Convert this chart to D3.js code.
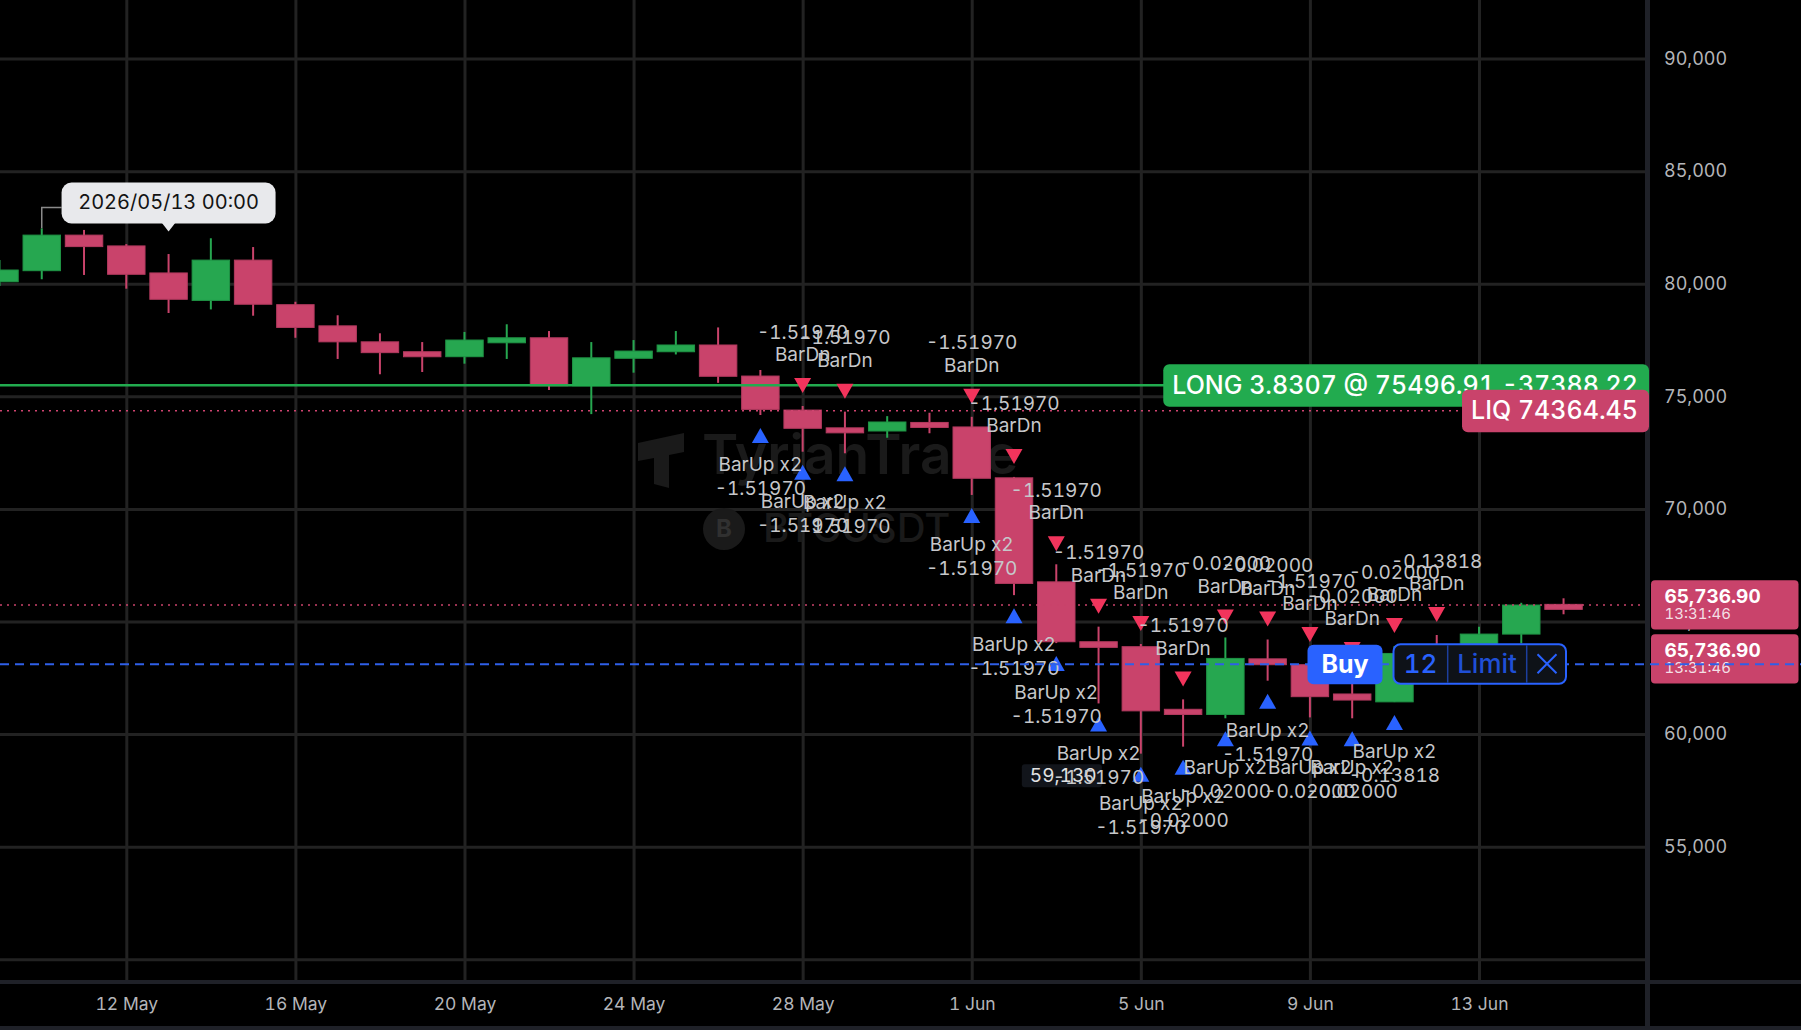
<!DOCTYPE html>
<html>
<head>
<meta charset="utf-8">
<script src="https://cdn.jsdelivr.net/npm/d3@7"></script>
<style>
  html, body { margin: 0; padding: 0; background: #000; overflow: hidden; }
  svg { display: block; }
  text { font-family: Inter, "Noto Sans", sans-serif; font-feature-settings: "tnum"; }
</style>
</head>
<body>
<svg id="chart"></svg>
<script>
// daily candles, 9 May -> 15 Jun 2026
const dates = ["2026-05-09","2026-05-10","2026-05-11","2026-05-12","2026-05-13","2026-05-14","2026-05-15","2026-05-16",
  "2026-05-17","2026-05-18","2026-05-19","2026-05-20","2026-05-21","2026-05-22","2026-05-23","2026-05-24","2026-05-25",
  "2026-05-26","2026-05-27","2026-05-28","2026-05-29","2026-05-30","2026-05-31","2026-06-01","2026-06-02","2026-06-03",
  "2026-06-04","2026-06-05","2026-06-06","2026-06-07","2026-06-08","2026-06-09","2026-06-10","2026-06-11","2026-06-12",
  "2026-06-13","2026-06-14","2026-06-15"];
const opens  = [80090, 80580, 82160, 81680, 80480, 79260, 81050, 79070, 78130, 77420, 76980, 76760, 77380, 77600, 75470, 76690,
  76980, 77280, 75900, 74390, 73600, 73460, 73840, 73640, 71380, 66760, 64100, 63880, 61100, 60870, 63340, 63080, 61780, 61430,
  63580, 62950, 64440, 65760];
const highs  = [81050, 82460, 82390, 81760, 81320, 82020, 81630, 79200, 78600, 77800, 77410, 77860, 78200, 77900, 77410, 77500,
  77900, 78060, 76170, 74570, 74320, 74120, 74270, 74090, 71420, 67540, 64770, 64000, 61540, 64290, 64200, 63510, 62840, 63910,
  64400, 64770, 65830, 66030];
const lows   = [79900, 80200, 80390, 79780, 78700, 78860, 78580, 77600, 76660, 75980, 76080, 76450, 76660, 75280, 74210, 76050,
  76860, 75600, 74170, 72540, 72470, 73160, 73360, 70620, 66170, 64040, 61360, 59130, 59440, 60700, 62370, 60740, 60700, 61420,
  62700, 62800, 64030, 65320];
const closes = [80610, 82160, 81650, 80420, 79310, 81050, 79090, 78060, 77420, 76940, 76760, 77500, 77600, 75470, 76710, 77010,
  77280, 75890, 74420, 73580, 73400, 73860, 73620, 71360, 66690, 64100, 63850, 61030, 60870, 63360, 63080, 61660, 61510, 63580,
  62950, 64440, 65730, 65736.9];

// signals
const dnDates  = ["2026-05-28","2026-05-29","2026-06-01","2026-06-02","2026-06-03","2026-06-04","2026-06-05","2026-06-06",
  "2026-06-07","2026-06-08","2026-06-09","2026-06-10","2026-06-11","2026-06-12"];
const dnValues = ["-1.51970","-1.51970","-1.51970","-1.51970","-1.51970","-1.51970","-1.51970","-1.51970",
  "-0.02000","-0.02000","-1.51970","-0.02000","-0.02000","-0.13818"];
const upDates  = ["2026-05-27","2026-05-28","2026-05-29","2026-06-01","2026-06-02","2026-06-03","2026-06-04","2026-06-05",
  "2026-06-06","2026-06-07","2026-06-08","2026-06-09","2026-06-10","2026-06-11"];
const upValues = ["-1.51970","-1.51970","-1.51970","-1.51970","-1.51970","-1.51970","-1.51970","-1.51970",
  "-0.02000","-0.02000","-1.51970","-0.02000","-0.02000","-0.13818"];

// axes
const priceTicks = [55000, 60000, 65000, 70000, 75000, 80000, 85000, 90000];
const priceGrid = [50000, 55000, 60000, 65000, 70000, 75000, 80000, 85000, 90000];
const dateTicks = ["2026-05-12","2026-05-16","2026-05-20","2026-05-24","2026-05-28","2026-06-01","2026-06-05","2026-06-09","2026-06-13"];

// position / orders
const entryPrice = 75496.91;
const longText = "LONG 3.8307 @ 75496.91 -37388.22";
const liqPrice = 74364.45;
const lastPrice = 65736.90;
const lastTime = "13:31:46";
const limitPrice = 63100;
const limitQty = "12";
const lowLabel = { date: "2026-06-05", price: 59130, text: "59,130" };
const tooltipDate = "2026-05-13";
const tooltipAnchor = "2026-05-10";
const tooltipText = "2026/05/13 00:00";

const W = 1801, H = 1030;
const plotRight = 1645, axisTop = 981;
const up = "#26a750", down = "#c9436b";

const parse = d3.utcParse("%Y-%m-%d");
const x = d3.scaleUtc().domain([parse("2026-05-12"), parse("2026-06-13")]).range([126.3, 1479]);
const y = d3.scaleLinear().domain([50000, 90000]).range([959.2, 58.6]);
const dayW = x(parse("2026-05-13")) - x(parse("2026-05-12"));
const bodyW = dayW * 0.886;

const candles = dates.map((d, i) => ({ date: parse(d), o: opens[i], h: highs[i], l: lows[i], c: closes[i] }));
const byDate = new Map(candles.map(c => [+c.date, c]));

const svg = d3.select("#chart").attr("width", W).attr("height", H);
svg.append("rect").attr("width", W).attr("height", H).attr("fill", "#000");

const defs = svg.append("defs");
defs.append("clipPath").attr("id", "plot-clip")
  .append("rect").attr("x", 0).attr("y", 0).attr("width", plotRight).attr("height", axisTop);

// grid
svg.append("g")
  .call(d3.axisLeft(y).tickValues(priceGrid).tickSize(-plotRight).tickFormat(""))
  .call(g => g.select(".domain").remove())
  .selectAll("line").attr("stroke", "#222").attr("stroke-width", 3);
svg.append("g")
  .call(d3.axisTop(x).tickValues(dateTicks.map(parse)).tickSize(-axisTop).tickFormat(""))
  .call(g => g.select(".domain").remove())
  .selectAll("line").attr("stroke", "#222").attr("stroke-width", 3);

// separators
svg.append("rect").attr("x", plotRight).attr("y", 0).attr("width", 5).attr("height", H).attr("fill", "#1f2128");
svg.append("rect").attr("x", 0).attr("y", axisTop - 1).attr("width", W).attr("height", 4).attr("fill", "#1f2128");
svg.append("rect").attr("x", 0).attr("y", H - 4).attr("width", W).attr("height", 4).attr("fill", "#1f2128");

// watermark
const wm = svg.append("g").attr("fill", "#1a1a1a");
wm.append("path").attr("d", "M638,443 L684,433 L684,452 L669,455 L669,488 L654,484 L654,458 L638,461 Z");
wm.append("text").attr("x", 702).attr("y", 474).attr("font-size", 55).attr("font-weight", 600).text("TyrianTrade");
wm.append("circle").attr("cx", 724).attr("cy", 529).attr("r", 21);
wm.append("text").attr("x", 724).attr("y", 529).attr("dy", "0.35em").attr("text-anchor", "middle")
  .attr("font-size", 24).attr("font-weight", 700).attr("fill", "#303030").text("B");
wm.append("text").attr("x", 763).attr("y", 542).attr("font-size", 40).attr("font-weight", 500).text("BTCUSDT");

// candles
const cg = svg.append("g").attr("clip-path", "url(#plot-clip)");
const candle = cg.selectAll("g.candle").data(candles).enter().append("g").attr("class", "candle");
candle.append("line")
  .attr("x1", d => x(d.date)).attr("x2", d => x(d.date))
  .attr("y1", d => y(d.h)).attr("y2", d => y(d.l))
  .attr("stroke", d => d.c >= d.o ? up : down).attr("stroke-width", 2);
candle.append("rect")
  .attr("x", d => x(d.date) - bodyW / 2).attr("width", bodyW)
  .attr("y", d => y(Math.max(d.o, d.c)))
  .attr("height", d => Math.max(5, Math.abs(y(d.o) - y(d.c))))
  .attr("fill", d => d.c >= d.o ? up : down)
  .attr("stroke", d => d.c >= d.o ? "#1f9445" : "#b33a5f").attr("stroke-width", 1);

// position / order lines
const lines = svg.append("g");
lines.append("line").attr("x1", 0).attr("x2", plotRight).attr("y1", y(entryPrice)).attr("y2", y(entryPrice))
  .attr("stroke", "#22ab4f").attr("stroke-width", 2.5);
lines.append("line").attr("x1", 0).attr("x2", plotRight).attr("y1", y(liqPrice)).attr("y2", y(liqPrice))
  .attr("stroke", "#d04470").attr("stroke-width", 1.5).attr("stroke-dasharray", "2,5");
lines.append("line").attr("x1", 0).attr("x2", plotRight).attr("y1", y(lastPrice)).attr("y2", y(lastPrice))
  .attr("stroke", "#c9436b").attr("stroke-width", 1.5).attr("stroke-dasharray", "2,5");

// low price label
const lowC = byDate.get(+parse(lowLabel.date));
const lowG = svg.append("g");
lowG.append("rect").attr("x", x(lowC.date) - 119).attr("y", y(lowLabel.price) + 10.5)
  .attr("width", 80).attr("height", 23).attr("rx", 3).attr("fill", "#12151b");
lowG.append("text").attr("x", x(lowC.date) - 111).attr("y", y(lowLabel.price) + 22).attr("dy", "0.35em")
  .attr("font-size", 19).attr("fill", "#e2e2e2").text(lowLabel.text);

// signal markers
const labelFill = "#c6c7ca";
const dn = dnDates.map((d, i) => ({ c: byDate.get(+parse(d)), v: dnValues[i] }));
const upS = upDates.map((d, i) => ({ c: byDate.get(+parse(d)), v: upValues[i] }));

const mg = svg.append("g");
dn.forEach(s => {
  const cx = x(s.c.date), top = y(s.c.h) - 28;
  mg.append("path").attr("d", `M${cx - 8.5},${top} L${cx + 8.5},${top} L${cx},${top + 15} Z`).attr("fill", "#f2345c");
});
upS.forEach(s => {
  const cx = x(s.c.date), top = y(s.c.l) + 13;
  mg.append("path").attr("d", `M${cx - 8.5},${top + 15} L${cx + 8.5},${top + 15} L${cx},${top} Z`).attr("fill", "#2962ff");
});
const lg = svg.append("g").attr("font-size", 19).attr("fill", labelFill).attr("text-anchor", "middle");
dn.forEach(s => {
  const cx = x(s.c.date), top = y(s.c.h) - 28;
  lg.append("text").attr("x", cx).attr("y", top - 23.5).attr("dy", "0.35em").text("BarDn");
  lg.append("text").attr("x", cx).attr("y", top - 46).attr("dy", "0.35em").text(s.v);
});
upS.forEach(s => {
  const cx = x(s.c.date), bottom = y(s.c.l) + 28;
  lg.append("text").attr("x", cx).attr("y", bottom + 21.5).attr("dy", "0.35em").text("BarUp x2");
  lg.append("text").attr("x", cx).attr("y", bottom + 45.5).attr("dy", "0.35em").text(s.v);
});

// tooltip
const tipC = byDate.get(+parse(tooltipDate));
const ancC = byDate.get(+parse(tooltipAnchor));
const tx = x(tipC.date);
const tip = svg.append("g");
tip.append("path").attr("d", `M${x(ancC.date)},${y(ancC.h)} V207.5 H${tx - 107}`)
  .attr("fill", "none").attr("stroke", "#8a8a8a").attr("stroke-width", 1.5);
tip.append("rect").attr("x", tx - 107).attr("y", 182.5).attr("width", 214).attr("height", 41).attr("rx", 10).attr("fill", "#e8e9ec");
tip.append("path").attr("d", `M${tx - 7},222.5 L${tx + 7},222.5 L${tx},231.5 Z`).attr("fill", "#e8e9ec");
tip.append("text").attr("x", tx).attr("y", 202).attr("dy", "0.35em").attr("text-anchor", "middle")
  .attr("font-size", 20).attr("fill", "#131313").text(tooltipText);

// position labels
const longG = svg.append("g");
const longT = longG.append("text").attr("y", y(entryPrice)).attr("dy", "0.35em")
  .attr("font-size", 25).attr("font-weight", 500).attr("fill", "#fff").text(longText);
const longW = longT.node().getComputedTextLength() + 20;
longG.insert("rect", "text").attr("x", plotRight + 4 - longW).attr("y", y(entryPrice) - 21).attr("width", longW)
  .attr("height", 42.5).attr("rx", 6).attr("fill", "#22ab4f");
longT.attr("x", plotRight + 4 - longW + 9);

const liqG = svg.append("g");
const liqT = liqG.append("text").attr("y", y(liqPrice)).attr("dy", "0.35em")
  .attr("font-size", 25).attr("font-weight", 500).attr("fill", "#fff").text("LIQ " + liqPrice.toFixed(2));
const liqW = liqT.node().getComputedTextLength() + 20;
liqG.insert("rect", "text").attr("x", plotRight + 4 - liqW).attr("y", y(liqPrice) - 21).attr("width", liqW)
  .attr("height", 42.5).attr("rx", 6).attr("fill", "#c9436b");
liqT.attr("x", plotRight + 4 - liqW + 9);

// price axis
svg.append("g").attr("transform", `translate(${plotRight + 4},0)`)
  .call(d3.axisRight(y).tickValues(priceTicks).tickSize(0).tickPadding(15).tickFormat(d3.format(",")))
  .call(g => g.select(".domain").remove())
  .selectAll("text").attr("font-size", 18).attr("fill", "#b4b5b9").attr("font-family", null);

// time axis
svg.append("g").attr("transform", `translate(0,${axisTop})`)
  .call(d3.axisBottom(x).tickValues(dateTicks.map(parse)).tickSize(0).tickFormat(d3.utcFormat("%-d %b")))
  .call(g => g.select(".domain").remove())
  .selectAll("text").attr("y", 23).attr("dy", "0.35em").attr("font-size", 17.5).attr("fill", "#b4b5b9").attr("font-family", null);

// last price labels
const fmt = d3.format(",.2f");
[0, 1].forEach(k => {
  const top = y(lastPrice) - 24.7 + k * 54;
  const g = svg.append("g");
  g.append("rect").attr("x", plotRight + 6).attr("y", top).attr("width", 147.5).attr("height", 49.4).attr("rx", 4).attr("fill", "#c9436b");
  g.append("text").attr("x", 1664.5).attr("y", top + 16).attr("dy", "0.35em").attr("font-size", 19).attr("font-weight", 700)
    .attr("fill", "#fff").text(fmt(lastPrice));
  g.append("text").attr("x", 1664.5).attr("y", top + 34).attr("dy", "0.35em").attr("font-size", 15)
    .attr("fill", "#f3dfe5").text(lastTime);
});

// limit order line + buttons
svg.append("line").attr("x1", 0).attr("x2", W).attr("y1", y(limitPrice)).attr("y2", y(limitPrice))
  .attr("stroke", "#2f5fe8").attr("stroke-width", 2).attr("stroke-dasharray", "9,6");
const ly = y(limitPrice);
const ob = svg.append("g");
ob.append("rect").attr("x", 1307.5).attr("y", ly - 19.5).attr("width", 75).attr("height", 39.5).attr("rx", 6).attr("fill", "#2962ff");
ob.append("text").attr("x", 1345).attr("y", ly).attr("dy", "0.35em").attr("text-anchor", "middle")
  .attr("font-size", 25).attr("font-weight", 700).attr("fill", "#fff").text("Buy");
ob.append("rect").attr("x", 1393.5).attr("y", ly - 20).attr("width", 172.5).attr("height", 39.5).attr("rx", 7)
  .attr("fill", "#0e1218").attr("stroke", "#2962ff").attr("stroke-width", 2);
ob.append("line").attr("x1", 1447.7).attr("x2", 1447.7).attr("y1", ly - 19).attr("y2", ly + 18.5).attr("stroke", "#1d3f9e").attr("stroke-width", 1.5);
ob.append("line").attr("x1", 1526.7).attr("x2", 1526.7).attr("y1", ly - 19).attr("y2", ly + 18.5).attr("stroke", "#1d3f9e").attr("stroke-width", 1.5);
ob.append("text").attr("x", 1420.5).attr("y", ly).attr("dy", "0.35em").attr("text-anchor", "middle")
  .attr("font-size", 26).attr("font-weight", 500).attr("fill", "#2962ff").text(limitQty);
ob.append("text").attr("x", 1487).attr("y", ly).attr("dy", "0.35em").attr("text-anchor", "middle")
  .attr("font-size", 26).attr("font-weight", 500).attr("fill", "#1f4fd6").text("Limit");
ob.append("path").attr("d", `M1537.5,${ly - 10} L1556.5,${ly + 9} M1556.5,${ly - 10} L1537.5,${ly + 9}`)
  .attr("stroke", "#2962ff").attr("stroke-width", 2);
</script>
</body>
</html>
